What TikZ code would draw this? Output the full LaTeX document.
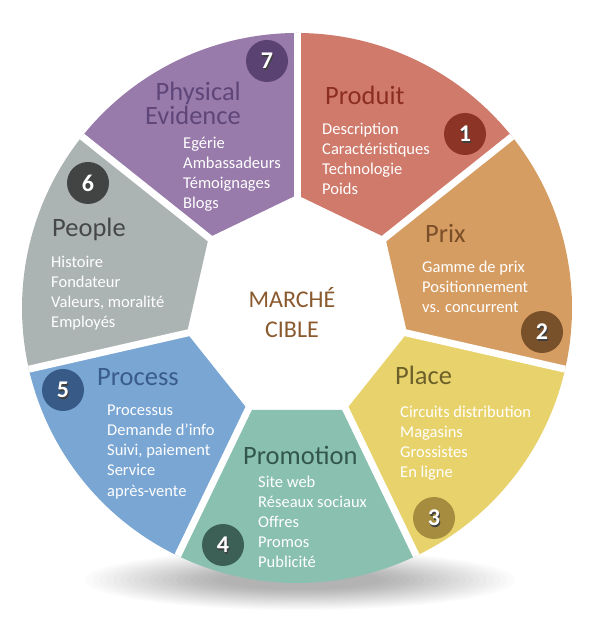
\documentclass[tikz,border=0pt]{standalone}
\usepackage{fontspec}
\setmainfont{Carlito}
\usetikzlibrary{calc}

\definecolor{produitfill}{RGB}{208,122,107}
\definecolor{produitdark}{RGB}{140,45,35}
\definecolor{prixfill}{RGB}{214,157,98}
\definecolor{prixdark}{RGB}{122,78,40}
\definecolor{placefill}{RGB}{232,210,108}
\definecolor{placedark}{RGB}{108,96,42}
\definecolor{promofill}{RGB}{138,192,176}
\definecolor{promodark}{RGB}{50,86,76}
\definecolor{processfill}{RGB}{122,166,212}
\definecolor{processdark}{RGB}{58,92,140}
\definecolor{peoplefill}{RGB}{172,179,179}
\definecolor{peopledark}{RGB}{70,72,72}
\definecolor{physfill}{RGB}{152,123,170}
\definecolor{physdark}{RGB}{95,70,122}
\definecolor{cibletext}{RGB}{138,90,46}
\definecolor{disc1}{RGB}{140,52,38}
\definecolor{disc2}{RGB}{120,80,42}
\definecolor{disc3}{RGB}{165,140,62}
\definecolor{disc4}{RGB}{60,96,86}
\definecolor{disc5}{RGB}{55,90,135}
\definecolor{disc6}{RGB}{66,68,68}
\definecolor{disc7}{RGB}{90,66,115}

\begin{document}
\begin{tikzpicture}[
        x=1pt, y=1pt,
        segtitle/.style = {inner sep=0pt, font=\fontsize{26.5}{24}\selectfont},
        segbody/.style = {inner sep=0pt, align=left, text=white, anchor=north west,
                          font=\fontsize{16.5}{20.2}\selectfont},
        numdisc/.style = {circle, minimum size=42pt, inner sep=0pt},
        numtext/.style = {inner sep=0pt, font=\bfseries\fontsize{24}{24}\selectfont},
        ]
    \useasboundingbox (0,0) rectangle (600,620);
    \fill[white] (0,0) rectangle (600,620);
    % shadow under the wheel
    \foreach \k in {0,...,19}
        \fill[black, opacity=0.014] (300,40) ellipse ({215-7*\k} and {30-1.1*\k});
    \coordinate (C) at (297,312);
    % wedges
    \foreach \i/\col in {0/produitfill, 1/prixfill, 2/placefill, 3/promofill,
                         4/processfill, 5/peoplefill, 6/physfill} {
        \pgfmathsetmacro\sa{90-\i*360/7}
        \pgfmathsetmacro\ea{\sa-360/7}
        \fill[\col] ($(C)+(\sa:113)$) -- ($(C)+(\sa:275)$)
            arc[start angle=\sa, end angle=\ea, radius=275pt]
            -- ($(C)+(\ea:113)$) -- cycle;
    }
    % white gaps
    \foreach \i in {0,...,6} {
        \pgfmathsetmacro\ga{90-\i*360/7}
        \draw[white, line width=7pt] ($(C)+(\ga:100)$) -- ($(C)+(\ga:275)$);
    }
    \node[font=\fontsize{24}{30}\selectfont, text=cibletext, align=center]
        (cible) at (292,307) {MARCHÉ\\CIBLE};
    % titles
    \node[segtitle, text=produitdark, anchor=base west] (produit) at (325,515) {Produit};
    \node[segtitle, text=prixdark, anchor=base west] (prix) at (425,377) {Prix};
    \node[segtitle, text=placedark, anchor=base west] (place) at (395,235) {Place};
    \node[segtitle, text=promodark, anchor=base west] (promotion) at (243,155) {Promotion};
    \node[segtitle, text=processdark, anchor=base west] (process) at (97,234) {Process};
    \node[segtitle, text=peopledark, anchor=base west] (people) at (52,383) {People};
    \node[segtitle, text=physdark, align=right, anchor=south east]
        (physical) at (241,495) {Physical\\Evidence};
    % lists
    \node[segbody] (produitlist) at (322,497.5)
        {Description\\Caractéristiques\\Technologie\\Poids};
    \node[segbody] (prixlist) at (422,359.5)
        {Gamme de prix\\Positionnement\\vs. concurrent};
    \node[segbody] (placelist) at (400,214.5)
        {Circuits distribution\\Magasins\\Grossistes\\En ligne};
    \node[segbody] (promotionlist) at (258,144.5)
        {Site web\\Réseaux sociaux\\Offres\\Promos\\Publicité};
    \node[segbody] (processlist) at (107,215.5)
        {Processus\\Demande d’info\\Suivi, paiement\\Service\\après-vente};
    \node[segbody] (peoplelist) at (51,364.5)
        {Histoire\\Fondateur\\Valeurs, moralité\\Employés};
    \node[segbody] (physicallist) at (183,483.5)
        {Egérie\\Ambassadeurs\\Témoignages\\Blogs};
    % numbers
    \foreach \n/\x/\y/\col in {1/465/486/disc1, 2/542/288/disc2, 3/434/102/disc3,
                               4/223/75/disc4, 5/63/230/disc5, 6/88/437/disc6,
                               7/267/559/disc7} {
        \node[numdisc, fill=\col] (num\n) at (\x,\y) {};
        \node[numtext, text=black!75] at ($(num\n)+(1,-1.5)$) {\n};
        \node[numtext, text=white] at (num\n) {\n};
    }
\end{tikzpicture}
\end{document}
